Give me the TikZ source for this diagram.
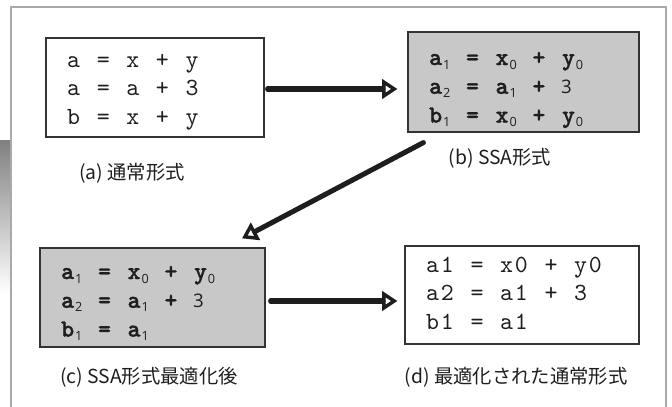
\documentclass[tikz,border=0pt]{standalone}
\usepackage{fontspec}
\setmainfont{Noto Sans CJK JP}
\newfontfamily\codefont[Extension=.otf,UprightFont=lmmono10-regular,BoldFont=lmmonolt10-bold,BoldFeatures={FakeBold=1.2}]{lmmono10-regular}
\newfontfamily\digitfont{Open Sans}
\usetikzlibrary{arrows.meta,calc}
\newlength\pxu \setlength\pxu{0.75pt}
\ExplSyntaxOn
\NewDocumentCommand\cw{m}{\str_map_inline:nn {#1} {\makebox[11.1pt]{##1}}}
\ExplSyntaxOff
\newcommand\ssub[1]{\raisebox{-3pt}{\digitfont\mdseries\fontsize{9.5}{10}\selectfont #1}}
\newcommand\sthree{{\digitfont\mdseries\fontsize{14}{14}\selectfont 3}}
\newcommand\codesize{\fontsize{18.5}{21.6}\selectfont}
% #1 height above first baseline (px), #2 depth below it (px), #3 width, #4 lines
\newcommand\codetext[4]{\raisebox{0pt}[#1\pxu][#2\pxu]{\parbox[t]{#3}{\raggedright #4}}}
\definecolor{framegray}{HTML}{A9A9A9}
\definecolor{boxfill}{HTML}{C8C8C8}
\definecolor{boxline}{HTML}{333333}
\definecolor{shade}{HTML}{ECEDEF}
\definecolor{ink}{HTML}{1E1E1E}
\begin{document}
\begin{tikzpicture}[x=0.75pt,y=-0.75pt,
  codebox/.style={draw=boxline,line width=0.9pt,inner xsep=15.2pt,inner ysep=0pt,
    font=\codefont\codesize,text=ink},
  ssabox/.style={codebox,fill=boxfill,font=\codefont\bfseries\codesize},
  caption/.style={font=\fontsize{14.5}{16}\selectfont,text=ink,inner sep=0pt},
  bigarrow/.style={line width=3.8pt,ink,line cap=round,
    -{Triangle[open,length=11.5pt,width=14.5pt,line width=2.6pt]}}
]
\useasboundingbox (0,0) rectangle (672,407);
% page shading and frame
\fill[shade] (0,140) rectangle (10,293);
\draw[framegray,line width=1.1pt] (11,407) -- (11,7) -- (666,7) -- (666,407);
% boxes
\node[codebox] (a) at (155,87.5)
  {\codetext{29}{70}{133.1pt}{\cw{a = x + y}\\\cw{a = a + 3}\\\cw{b = x + y}}};
\node[ssabox] (b) at (523.5,82)
  {\codetext{33}{67}{142.85pt}{\cw{a}\ssub{1}\cw{ = x}\ssub{0}\cw{ + y}\ssub{0}\\\cw{a}\ssub{2}\cw{ = a}\ssub{1}\cw{ + }\sthree\\\cw{b}\ssub{1}\cw{ = x}\ssub{0}\cw{ + y}\ssub{0}}};
\node[ssabox] (c) at (152.5,297.5)
  {\codetext{31}{68}{138.35pt}{\cw{a}\ssub{1}\cw{ = x}\ssub{0}\cw{ + y}\ssub{0}\\\cw{a}\ssub{2}\cw{ = a}\ssub{1}\cw{ + }\sthree\\\cw{b}\ssub{1}\cw{ = a}\ssub{1}}};
\node[codebox] (d) at (522,295)
  {\codetext{26}{72}{145.1pt}{\cw{a1 = x0 + y0}\\\cw{a2 = a1 + 3}\\\cw{b1 = a1}}};
% captions
\node[caption] (la) at (132,173) {(a) 通常形式};
\node[caption] (lb) at (500,158) {(b) SSA形式};
\node[caption] (lc) at (149,377) {(c) SSA形式最適化後};
\node[caption] (ld) at (516,377) {(d) 最適化された通常形式};
% arrows
\draw[bigarrow] ($(a.east)+(3,1.5)$) -- ($(b.west)+(-10,7)$);
\draw[bigarrow] ($(b.south west)+(16,10)$) -- ($(c.north)+(89.5,-9)$);
\draw[bigarrow] ($(c.east)+(5,3.5)$) -- ($(d.west)+(-7,6)$);
\end{tikzpicture}
\end{document}
